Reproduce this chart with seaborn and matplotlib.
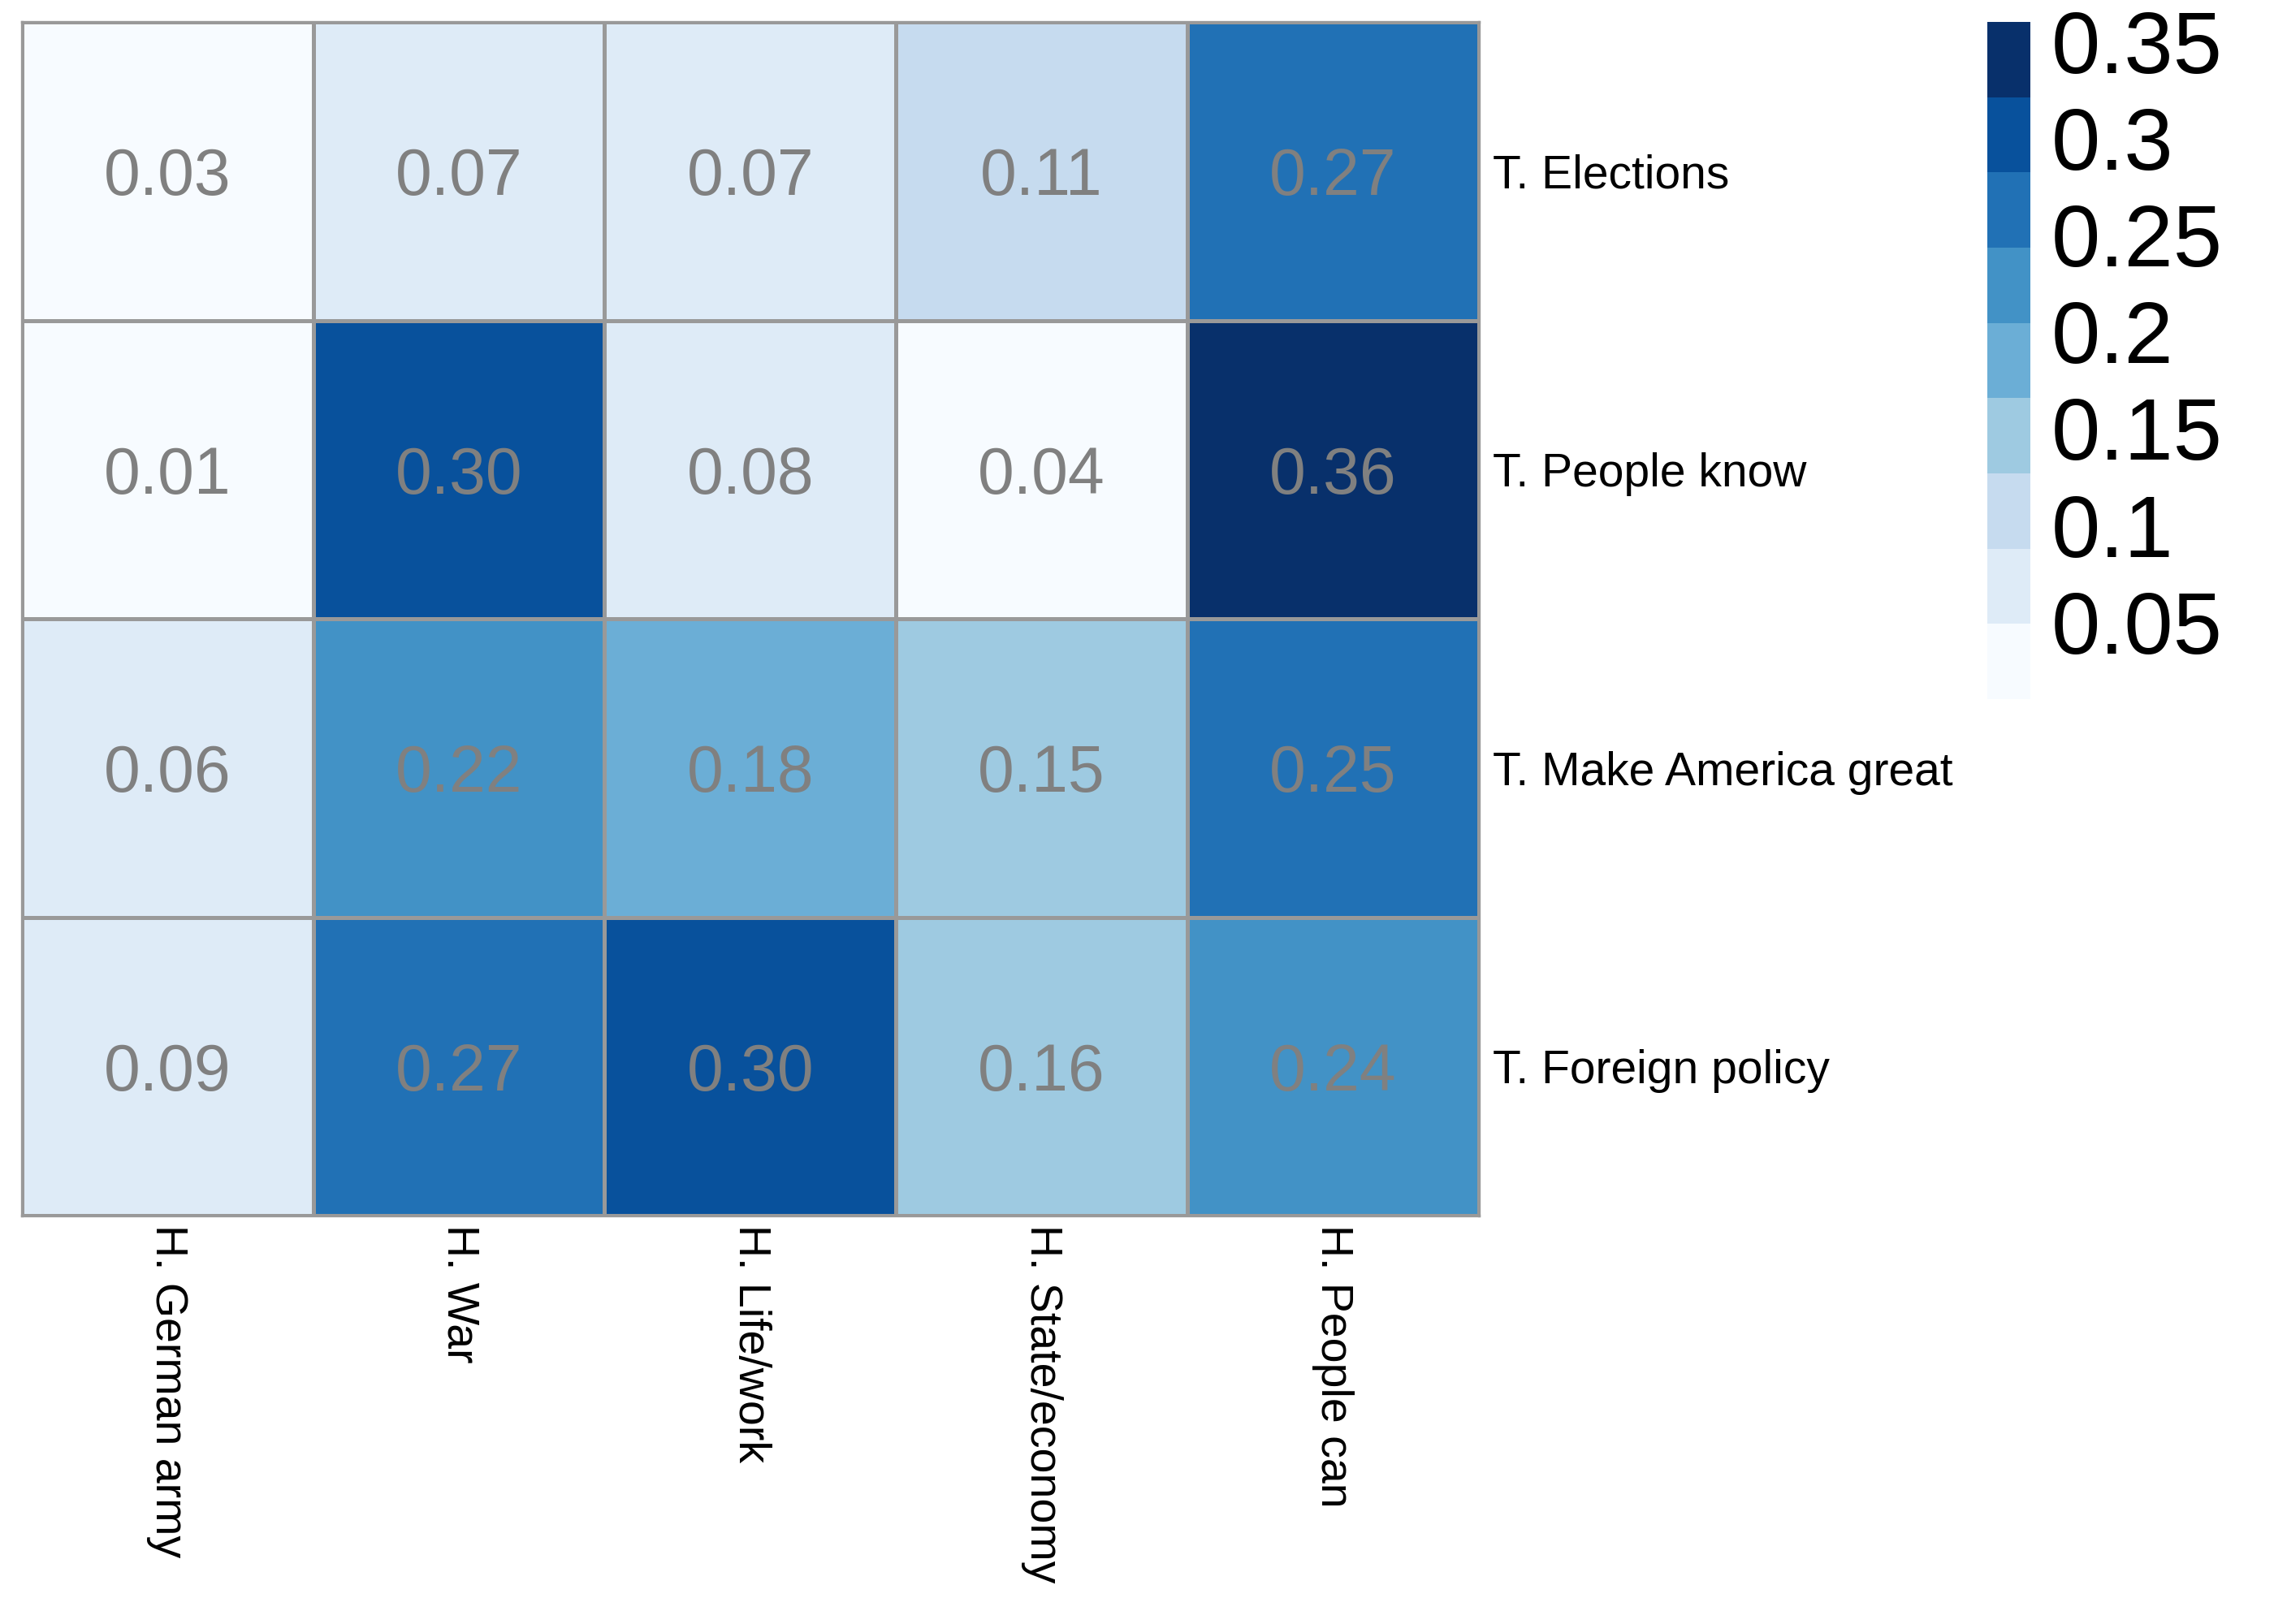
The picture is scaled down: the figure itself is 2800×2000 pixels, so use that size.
import numpy as np
import pandas as pd
import matplotlib
matplotlib.use('Agg')
import matplotlib.pyplot as plt
from matplotlib.colors import ListedColormap, BoundaryNorm
import seaborn as sns

# Data
rows = ['T. Elections', 'T. People know', 'T. Make America great', 'T. Foreign policy']
cols = ['H. German army', 'H. War', 'H. Life/work', 'H. State/economy', 'H. People can']
elections = [0.03, 0.07, 0.07, 0.11, 0.27]
people_know = [0.01, 0.30, 0.08, 0.04, 0.36]
make_america_great = [0.06, 0.22, 0.18, 0.15, 0.25]
foreign_policy = [0.087, 0.27, 0.30, 0.16, 0.24]
cbar_ticks = [0.05, 0.1, 0.15, 0.2, 0.25, 0.3, 0.35]
cbar_labels = ['0.05', '0.1', '0.15', '0.2', '0.25', '0.3', '0.35']

df = pd.DataFrame([elections, people_know, make_america_great, foreign_policy],
                  index=rows, columns=cols)

sns.set_style('white')
plt.rcParams['font.family'] = ['Liberation Sans', 'DejaVu Sans']

blues9 = ['#f7fbff', '#deebf7', '#c6dbef', '#9ecae1', '#6baed6',
          '#4292c6', '#2171b5', '#08519c', '#08306b']
cmap = ListedColormap(blues9)
vals = df.values
bounds = np.linspace(vals.min(), vals.max(), len(blues9) + 1)
norm = BoundaryNorm(bounds, cmap.N)

fig = plt.figure(figsize=(14, 10), dpi=200)
ax = fig.add_axes([0.0096, 0.2515, 0.6407, 0.735])
cax = fig.add_axes([0.874, 0.5695, 0.019, 0.417])

sns.heatmap(df, ax=ax, cbar_ax=cax, cmap=cmap, norm=norm,
            annot=True, fmt='.2f',
            annot_kws={'size': 29, 'color': '#808080'},
            linewidths=1.2, linecolor='#999999',
            cbar_kws={'ticks': cbar_ticks})

# number labels: center on digits rather than on full text box
for t in ax.texts:
    t.set_va('center_baseline')

# outer border
for s in ax.spines.values():
    s.set_visible(True)
    s.set_color('#999999')
    s.set_linewidth(1.2)

ax.yaxis.tick_right()
ax.set_yticklabels(rows, rotation=0, ha='left', fontsize=20.5, color='black')
ax.set_xticklabels(cols, rotation=270, ha='center', va='top', fontsize=20, color='black')
ax.tick_params(axis='both', length=0)
ax.tick_params(axis='y', pad=6)
ax.tick_params(axis='x', pad=4)
ax.set_xlabel('')
ax.set_ylabel('')

cax.set_yticks(cbar_ticks)
cax.set_yticklabels(cbar_labels, fontsize=39, color='black', va='center_baseline')
cax.tick_params(which='both', length=0, pad=9)

fig.savefig('out.png', dpi=200)
